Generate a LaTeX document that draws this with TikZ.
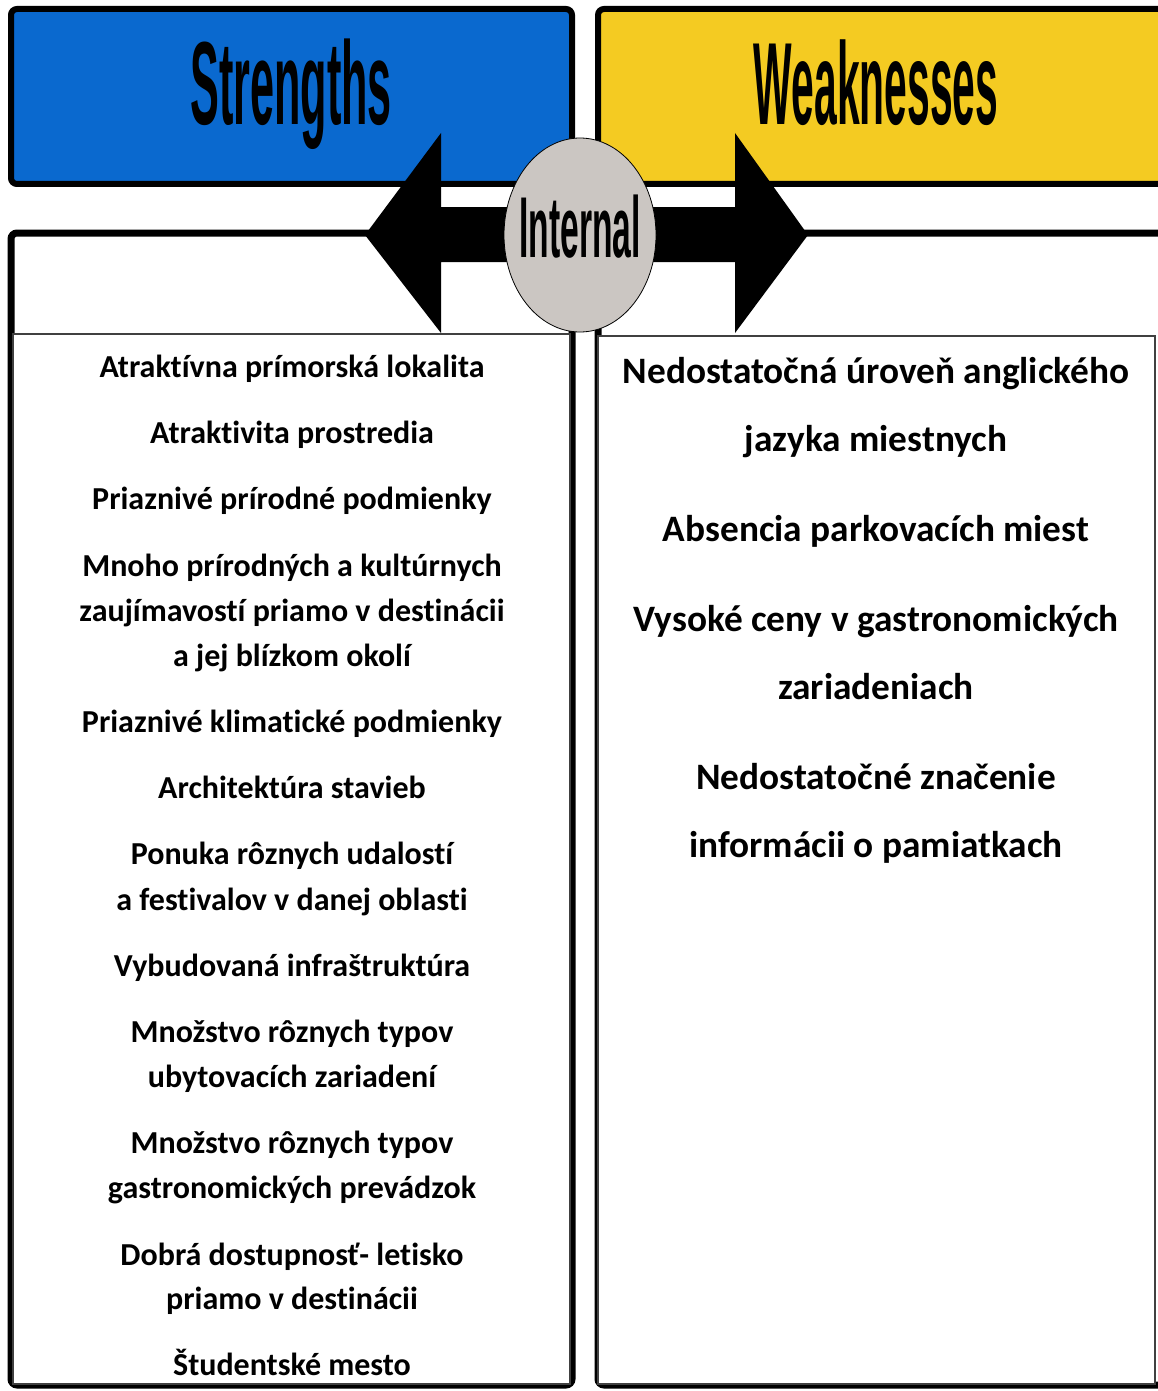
\documentclass[tikz,border=0pt]{standalone}
\usepackage{fontspec}
\usetikzlibrary{shapes.geometric}
\setmainfont{Carlito}[Ligatures={NoCommon}]
\newfontfamily\headfont{Liberation Sans}
\definecolor{sblue}{HTML}{0A69CF}
\definecolor{wyellow}{HTML}{F4CB22}
\definecolor{cgray}{HTML}{CBC6C2}
\begin{document}
\begin{tikzpicture}[x=1pt,y=-1pt,
  headbox/.style={draw=black,line width=6pt,rounded corners=6pt},
  bodybox/.style={draw=black,line width=7pt,rounded corners=6pt,fill=white},
  innerbox/.style={draw=black!75,line width=1.5pt,fill=white},
  sline/.style={anchor=base,inner sep=0pt,font=\bfseries\fontsize{32}{38}\selectfont},
  wline/.style={anchor=base,inner sep=0pt,font=\bfseries\fontsize{37.3}{44}\selectfont}]
\useasboundingbox (0,0) rectangle (1158,1391);
\fill[white] (0,0) rectangle (1158,1391);
% headers
\draw[headbox,fill=sblue] (11,9) rectangle (572,184);
\draw[headbox,fill=wyellow] (598,9) rectangle (1166,184);
% bodies
\draw[bodybox] (11,233) rectangle (572,1385);
\draw[bodybox] (598,233) rectangle (1166,1385);
\draw[innerbox] (13,334) rectangle (570,1384);
\draw[innerbox] (598,336) rectangle (1155,1384);
% header texts
\node[anchor=base,inner sep=0pt] (strengths) at (291,125)
  {\scalebox{0.72}[1.97]{\headfont\bfseries\fontsize{60}{60}\selectfont Strengths}};
\node[anchor=base,inner sep=0pt] (weaknesses) at (876,125)
  {\scalebox{0.68}[1.95]{\headfont\bfseries\fontsize{60}{60}\selectfont Weaknesses}};
% double arrow
\fill[black] (365,235) -- (441,133) -- (441,207) -- (735,207) -- (735,133)
  -- (808,235) -- (735,333) -- (735,262) -- (441,262) -- (441,333) -- cycle;
% circle
\node[draw=black,line width=0.8pt,fill=cgray,ellipse,minimum width=152pt,minimum height=194pt,inner sep=0pt] (circ) at (580,235) {};
\node[anchor=base,inner sep=0pt] (internal) at (580,257)
  {\scalebox{0.56}[1.44]{\headfont\bfseries\fontsize{60}{60}\selectfont Internal}};
% strengths items
\node[sline] (s1) at (292,377) {Atraktívna prímorská lokalita};
\node[sline] (s2) at (292,443) {Atraktivita prostredia};
\node[sline] (s3) at (292,509) {Priaznivé prírodné podmienky};
\node[sline] (s4a) at (292,576) {Mnoho prírodných a kultúrnych};
\node[sline] (s4b) at (292,621) {zaujímavostí priamo v destinácii};
\node[sline] (s4c) at (292,666) {a jej blízkom okolí};
\node[sline] (s5) at (292,732) {Priaznivé klimatické podmienky};
\node[sline] (s6) at (292,798) {Architektúra stavieb};
\node[sline] (s7a) at (292,864) {Ponuka rôznych udalostí};
\node[sline] (s7b) at (292,910) {a festivalov v danej oblasti};
\node[sline] (s8) at (292,976) {Vybudovaná infraštruktúra};
\node[sline] (s9a) at (292,1042) {Množstvo rôznych typov};
\node[sline] (s9b) at (292,1087) {ubytovacích zariadení};
\node[sline] (s10a) at (292,1153) {Množstvo rôznych typov};
\node[sline] (s10b) at (292,1198) {gastronomických prevádzok};
\node[sline] (s11a) at (292,1265) {Dobrá dostupnosť- letisko};
\node[sline] (s11b) at (292,1309) {priamo v destinácii};
\node[sline] (s12) at (292,1375) {Študentské mesto};
% weaknesses items
\node[wline] (w1a) at (876,383) {Nedostatočná úroveň anglického};
\node[wline] (w1b) at (876,451) {jazyka miestnych};
\node[wline] (w2) at (876,541) {Absencia parkovacích miest};
\node[wline] (w3a) at (876,631) {Vysoké ceny v gastronomických};
\node[wline] (w3b) at (876,699) {zariadeniach};
\node[wline] (w4a) at (876,789) {Nedostatočné značenie};
\node[wline] (w4b) at (876,857) {informácii o pamiatkach};
\end{tikzpicture}
\end{document}
